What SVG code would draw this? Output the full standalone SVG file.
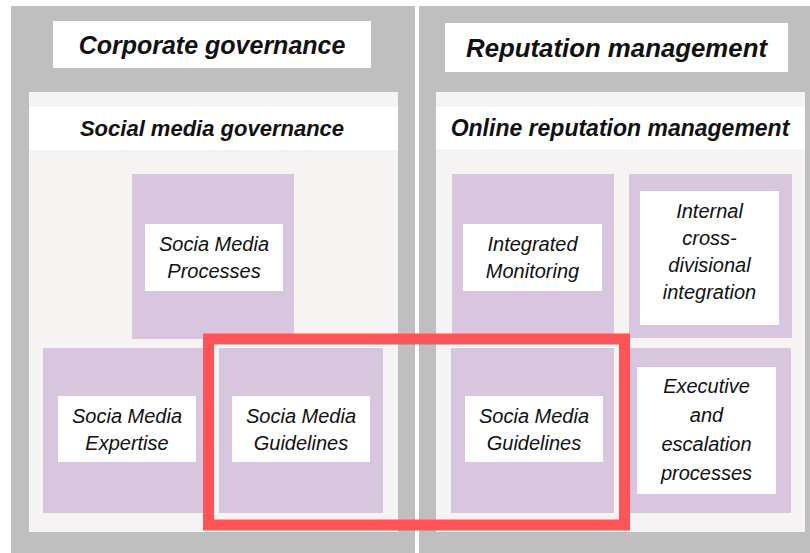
<svg xmlns="http://www.w3.org/2000/svg" width="810" height="553" viewBox="0 0 810 553">
<style>
.grey{fill:#c0bfc0}
.panel{fill:#f5f4f3}
.band{fill:#ffffff}
.box{fill:#d8c5de}
.lbl{fill:#ffffff}
.title{font-family:"Liberation Sans",Arial,sans-serif;font-weight:bold;font-style:italic;font-size:25px;fill:#111;text-anchor:middle}
.sub{font-family:"Liberation Sans",Arial,sans-serif;font-weight:bold;font-style:italic;font-size:22px;fill:#111;text-anchor:middle}
.t{font-family:"Liberation Sans",Arial,sans-serif;font-style:italic;font-size:20px;fill:#111;text-anchor:middle}
</style>
<rect width="810" height="553" fill="#ffffff"/>
<g id="corporate-governance">
<rect class="grey" x="11" y="6" width="404" height="547"/>
<rect class="lbl" x="53" y="21" width="318" height="47"/>
<text class="title" x="212" y="54">Corporate governance</text>
</g>
<g id="reputation-management">
<rect class="grey" x="419" y="6" width="391" height="547"/>
<rect class="lbl" x="445" y="23" width="343" height="49"/>
<text class="title" x="616.5" y="57" style="font-size:25.8px">Reputation management</text>
</g>
<g id="social-media-governance">
<rect class="panel" x="29" y="92" width="369" height="440"/>
<rect class="band" x="29" y="107" width="369" height="43"/>
<text class="sub" x="212" y="136">Social media governance</text>
</g>
<g id="online-reputation-management">
<rect class="panel" x="436" y="92" width="369" height="440"/>
<rect class="band" x="436" y="107" width="369" height="42"/>
<text class="sub" x="620" y="136" style="font-size:23px">Online reputation management</text>
</g>
<g id="processes">
<rect class="box" x="132" y="174" width="162" height="165"/>
<rect class="lbl" x="145" y="224" width="138" height="67"/>
<text class="t" x="214" y="251">Socia Media</text>
<text class="t" x="214" y="278">Processes</text>
</g>
<g id="expertise">
<rect class="box" x="43" y="348" width="166" height="165"/>
<rect class="lbl" x="58" y="396" width="138" height="66"/>
<text class="t" x="127" y="423">Socia Media</text>
<text class="t" x="127" y="450">Expertise</text>
</g>
<g id="guidelines-left">
<rect class="box" x="219" y="348" width="164" height="165"/>
<rect class="lbl" x="232" y="396" width="138" height="66"/>
<text class="t" x="301" y="423">Socia Media</text>
<text class="t" x="301" y="450">Guidelines</text>
</g>
<g id="integrated-monitoring">
<rect class="box" x="452" y="174" width="162" height="165"/>
<rect class="lbl" x="463" y="224" width="139" height="67"/>
<text class="t" x="532.5" y="251">Integrated</text>
<text class="t" x="532.5" y="278">Monitoring</text>
</g>
<g id="internal-integration">
<rect class="box" x="629" y="174" width="163" height="164"/>
<rect class="lbl" x="640" y="191" width="139" height="134"/>
<text class="t" x="709.5" y="218">Internal</text>
<text class="t" x="709.5" y="245">cross-</text>
<text class="t" x="709.5" y="272">divisional</text>
<text class="t" x="709.5" y="299">integration</text>
</g>
<g id="guidelines-right">
<rect class="box" x="451" y="348" width="163" height="165"/>
<rect class="lbl" x="465" y="396" width="138" height="66"/>
<text class="t" x="534" y="423">Socia Media</text>
<text class="t" x="534" y="450">Guidelines</text>
</g>
<g id="executive-escalation">
<rect class="box" x="630" y="348" width="161" height="165"/>
<rect class="lbl" x="637" y="367" width="139" height="127"/>
<text class="t" x="706.5" y="393">Executive</text>
<text class="t" x="706.5" y="422">and</text>
<text class="t" x="706.5" y="451">escalation</text>
<text class="t" x="706.5" y="480">processes</text>
</g>
<g id="connectors">
<rect x="208.5" y="339" width="416" height="186" fill="none" stroke="#fe5457" stroke-width="11"/>
</g>
</svg>
